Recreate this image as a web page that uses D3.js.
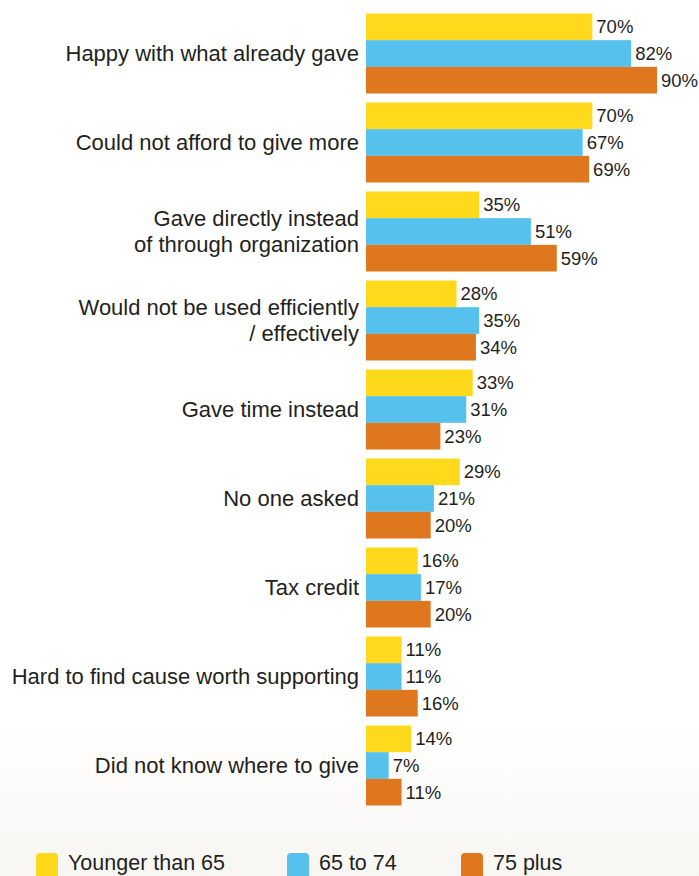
<!DOCTYPE html>
<html><head><meta charset="utf-8">
<script src="https://cdn.jsdelivr.net/npm/d3@7"></script>
<style>html,body{margin:0;padding:0;background:#fff;}svg{display:block;}</style>
</head><body>
<script>
const categories = [
  "Happy with what already gave",
  "Could not afford to give more",
  "Gave directly instead|of through organization",
  "Would not be used efficiently|/ effectively",
  "Gave time instead",
  "No one asked",
  "Tax credit",
  "Hard to find cause worth supporting",
  "Did not know where to give"
];
const seriesNames = ["Younger than 65", "65 to 74", "75 plus"];
const younger = [70, 70, 35, 28, 33, 29, 16, 11, 14];
const age65to74 = [82, 67, 51, 35, 31, 21, 17, 11, 7];
const age75plus = [90, 69, 59, 34, 23, 20, 20, 16, 11];
const colors = ["#FFD91C", "#55C1EC", "#DE771E"];

const W = 699, H = 876;
const svg = d3.select("body").append("svg").attr("width", W).attr("height", H);

const defs = svg.append("defs");
const grad = defs.append("linearGradient").attr("id","bg").attr("x1",0).attr("y1",0).attr("x2",0).attr("y2",1);
grad.append("stop").attr("offset","0%").attr("stop-color","#ffffff");
grad.append("stop").attr("offset","100%").attr("stop-color","#F8F6F2");
svg.append("rect").attr("width",W).attr("height",H).attr("fill","#fff");
svg.append("rect").attr("x",0).attr("y",720).attr("width",W).attr("height",H-720).attr("fill","url(#bg)");

const series = [younger, age65to74, age75plus];
const data = categories.map((c, i) => ({cat: c, vals: series.map(s => s[i])}));

const x = d3.scaleLinear().domain([0, 90]).range([366, 657]);
const y = d3.scaleBand().domain(categories).range([13.5, 13.5 + 89 * (9 - 0.101)]).paddingInner(0.101).paddingOuter(0);
const ySub = d3.scaleBand().domain([0,1,2]).range([0, y.bandwidth()]).padding(0);

const g = svg.append("g").attr("font-family", "'Liberation Sans', Arial, sans-serif").attr("fill", "#231F20");

const groups = g.selectAll("g.grp").data(data).enter().append("g").attr("class","grp")
  .attr("transform", d => `translate(0,${y(d.cat)})`);

groups.selectAll("rect").data(d => d.vals.map((v, k) => ({v, k}))).enter().append("rect")
  .attr("x", x(0))
  .attr("y", d => ySub(d.k))
  .attr("width", d => x(d.v) - x(0))
  .attr("height", ySub.bandwidth())
  .attr("fill", d => colors[d.k]);

groups.selectAll("text.val").data(d => d.vals.map((v, k) => ({v, k}))).enter().append("text")
  .attr("class","val")
  .attr("x", d => x(d.v) + 4)
  .attr("y", d => ySub(d.k) + ySub.bandwidth() / 2 + 6.5)
  .attr("font-size", "18.5px")
  .text(d => d.v + "%");

groups.each(function(d) {
  const lines = d.cat.split("|");
  const t = d3.select(this).append("text")
    .attr("text-anchor", "end")
    .attr("font-size", "22px");
  const mid = y.bandwidth() / 2 + 7.5;
  const lh = 26;
  lines.forEach((ln, j) => {
    t.append("tspan").attr("x", 359).attr("y", mid + (j - (lines.length - 1) / 2) * lh).text(ln);
  });
});

const legendX = [36, 287, 461];
const leg = g.selectAll("g.leg").data(seriesNames).enter().append("g").attr("class","leg")
  .attr("transform", (d, i) => `translate(${legendX[i]},853)`);
leg.append("rect").attr("width", 22).attr("height", 26).attr("rx", 4).attr("fill", (d, i) => colors[i]);
leg.append("text").attr("x", 32).attr("y", 17).attr("font-size", "21.5px").text(d => d);
</script>
</body></html>
